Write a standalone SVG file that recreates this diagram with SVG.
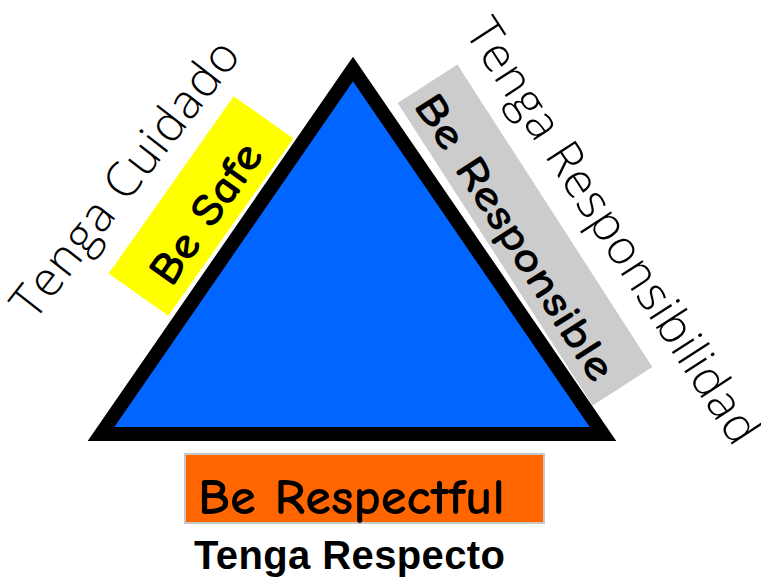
<svg xmlns="http://www.w3.org/2000/svg" width="761" height="580" viewBox="0 0 761 580">
<style>
.comic{font-family:"Comic Sans MS","Comic Neue","DejaVu Sans",sans-serif;font-weight:bold;fill:#000}
.thin{font-family:"Open Sans","Lato","DejaVu Sans",sans-serif;font-weight:300;fill:#000}
.bold{font-family:"Liberation Sans",Arial,sans-serif;font-weight:bold;fill:#000}
</style>
<rect width="761" height="580" fill="#fff"/>
<g id="safe">
<rect x="92.5" y="169.5" width="217" height="73" fill="#ffff00" transform="rotate(-54.8 201 206)"/>
<text class="comic" x="218" y="222" font-size="46" text-anchor="middle" textLength="162" lengthAdjust="spacingAndGlyphs" transform="rotate(-55 218 222)">Be Safe</text>
</g>
<g id="responsible">
<rect x="345" y="199.5" width="360" height="71" fill="#cccccc" transform="rotate(57.2 525 235)"/>
<text class="comic" x="503" y="245" font-size="44" text-anchor="middle" textLength="332" lengthAdjust="spacingAndGlyphs" transform="rotate(57.2 503 245)">Be Responsible</text>
</g>
<g id="triangle">
<polygon points="353,69 101,434 603,434" fill="#0066ff" stroke="#000" stroke-width="14" stroke-linejoin="miter" stroke-miterlimit="10"/>
</g>
<g id="respectful">
<rect x="185" y="454" width="359" height="69" fill="#ff6600" stroke="#c8c8c8" stroke-width="2"/>
<text class="comic" x="198" y="514" font-size="50" textLength="307" lengthAdjust="spacingAndGlyphs">Be Respectful</text>
</g>
<g id="labels">
<text class="thin" x="138" y="189" font-size="48" text-anchor="middle" textLength="338" transform="rotate(-52 138 189)">Tenga Cuidado</text>
<text class="thin" x="599" y="240" font-size="48" text-anchor="middle" textLength="496" transform="rotate(57 599 240)">Tenga Responsibilidad</text>
<text class="bold" x="194" y="569" font-size="40" textLength="311">Tenga Respecto</text>
</g>
</svg>
